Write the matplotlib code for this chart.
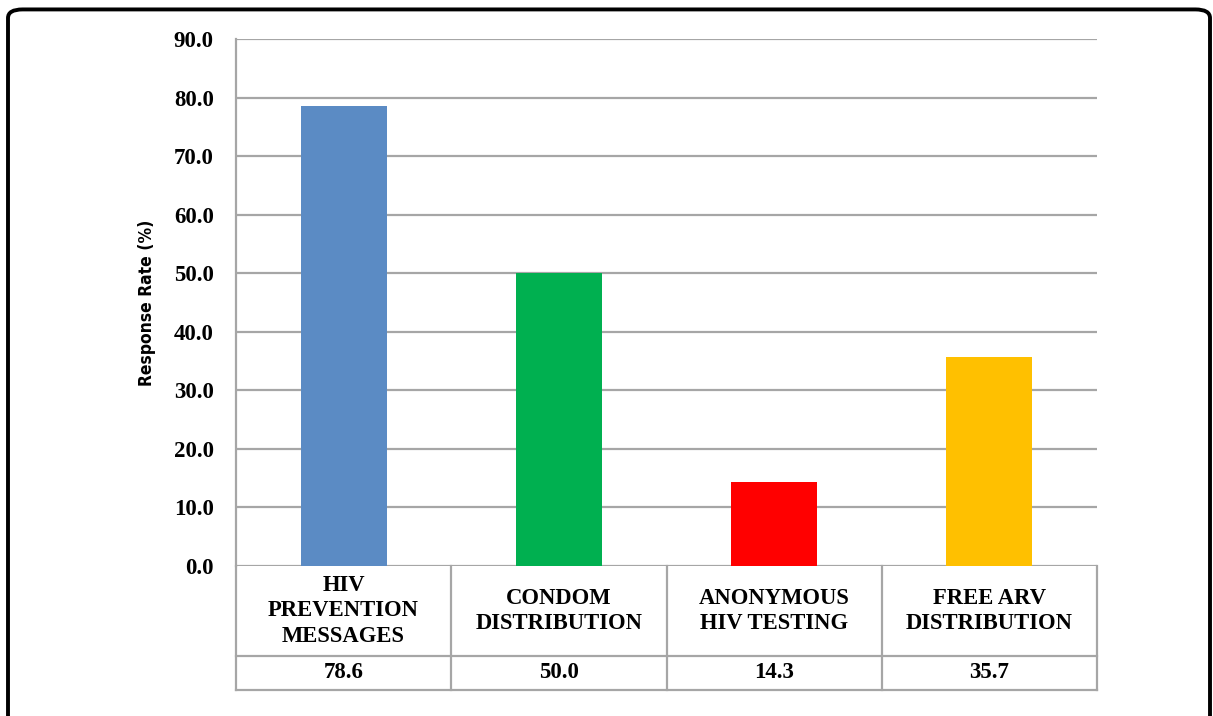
import matplotlib
matplotlib.use("Agg")
import matplotlib.pyplot as plt
from matplotlib.patches import FancyBboxPatch
from matplotlib.lines import Line2D
from matplotlib import font_manager

categories = ["HIV\nPREVENTION\nMESSAGES", "CONDOM\nDISTRIBUTION",
              "ANONYMOUS\nHIV TESTING", "FREE ARV\nDISTRIBUTION"]
values = [78.6, 50.0, 14.3, 35.7]
value_labels = ["78.6", "50.0", "14.3", "35.7"]
colors = ["#5B8BC4", "#00B050", "#FF0000", "#FFC000"]
yticks = [0, 10, 20, 30, 40, 50, 60, 70, 80, 90]

names = {f.name for f in font_manager.fontManager.ttflist}
narrow = "Liberation Sans Narrow" in names
ylab_family = "Liberation Sans Narrow" if narrow else "DejaVu Sans"
ylab_kw = dict(fontsize=14.5) if narrow else dict(fontsize=12.5, fontstretch="condensed")

W, H = 1213, 716
fig = plt.figure(figsize=(W / 100, H / 100), dpi=100)
fig.patch.set_facecolor("white")

border = FancyBboxPatch((8 / W, -0.05), (1210 - 8) / W, (H - 8) / H + 0.05 - 0.002,
                        boxstyle="round,pad=0,rounding_size=0.012",
                        transform=fig.transFigure, fill=False,
                        edgecolor="black", linewidth=2.8, clip_on=False)
fig.patches.append(border)

L, R, T, B = 236, 1097, 39, 566
ax = fig.add_axes([L / W, 1 - B / H, (R - L) / W, (B - T) / H])
grid_c = "#A6A6A6"
x = list(range(len(values)))
ax.bar(x, values, width=0.4, color=colors, zorder=3)
ax.set_xlim(-0.5, len(values) - 0.5)
ax.set_ylim(0, 90)
ax.set_yticks(yticks)
ax.set_yticklabels([f"{v:.1f}" for v in yticks], fontfamily="Liberation Serif",
                   fontweight="bold", fontsize=16.5)
ax.tick_params(axis="y", length=0, pad=16)
ax.set_xticks([])
for s in ["top", "right", "bottom"]:
    ax.spines[s].set_visible(False)
ax.spines["left"].set_color(grid_c)
ax.spines["left"].set_linewidth(1.6)
ax.yaxis.grid(True, color=grid_c, linewidth=1.6, zorder=0)
ax.set_axisbelow(True)

ax.set_ylabel("Response Rate (%)", fontfamily=ylab_family,
              fontweight="bold", labelpad=13, **ylab_kw)

tr = ax.get_xaxis_transform()
ah = B - T
y_row1 = -(656 - B) / ah
y_row2 = -(690 - B) / ah
n = len(values)
lines = []
for e in [i - 0.5 for i in range(n + 1)]:
    lines.append(Line2D([e, e], [0, y_row2], transform=tr, color=grid_c, lw=1.6, clip_on=False))
for yy in [y_row1, y_row2]:
    lines.append(Line2D([-0.5, n - 0.5], [yy, yy], transform=tr, color=grid_c, lw=1.6, clip_on=False))
for ln in lines:
    ax.add_line(ln)

for i, (c, v) in enumerate(zip(categories, value_labels)):
    ax.text(i, y_row1 / 2, c, transform=tr, ha="center", va="center",
            fontfamily="Liberation Serif", fontweight="bold", fontsize=16.3,
            linespacing=1.3, clip_on=False)
    ax.text(i, (y_row1 + y_row2) / 2, v, transform=tr, ha="center", va="center",
            fontfamily="Liberation Serif", fontweight="bold", fontsize=16.5, clip_on=False)

fig.savefig("out.png", dpi=100)
